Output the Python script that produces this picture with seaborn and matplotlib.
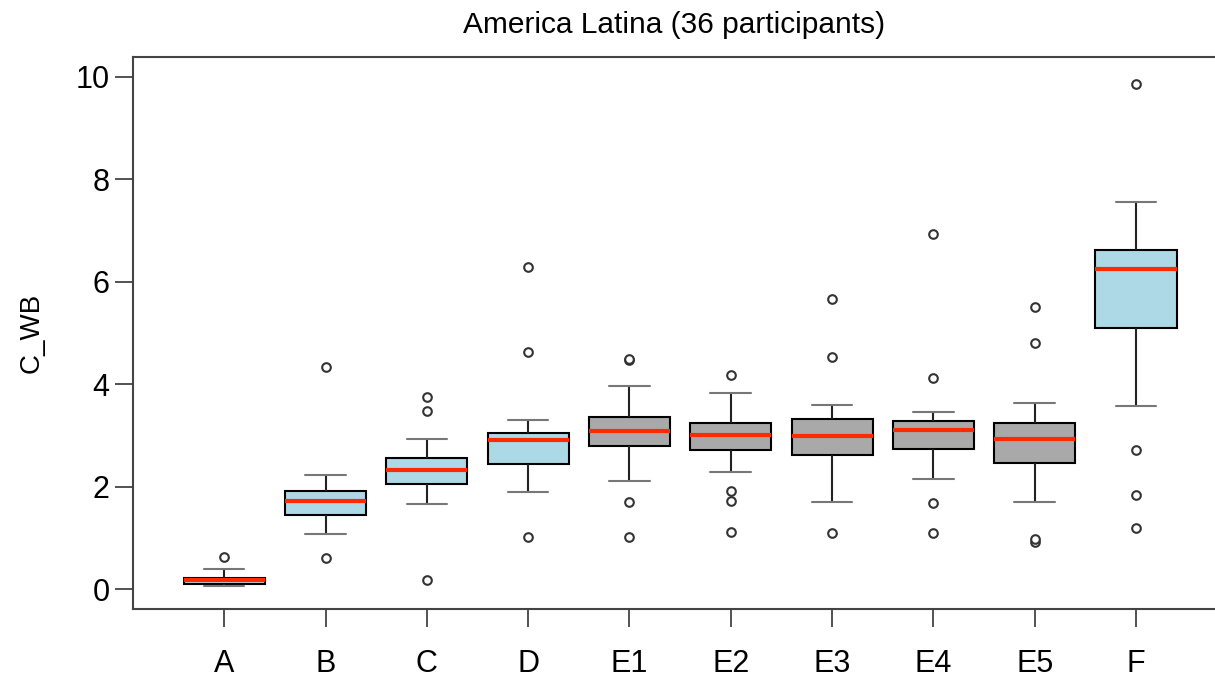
import pandas as pd
import matplotlib
matplotlib.use("Agg")
import matplotlib.pyplot as plt
import seaborn as sns

groups = ["A", "B", "C", "D", "E1", "E2", "E3", "E4", "E5", "F"]

vals_A = [0.06, 0.07, 0.08, 0.08, 0.09, 0.09, 0.09, 0.10, 0.10, 0.10,
          0.11, 0.12, 0.13, 0.14, 0.15, 0.16, 0.16, 0.17, 0.17,
          0.18, 0.18, 0.19, 0.20, 0.20, 0.21, 0.21, 0.22, 0.22,
          0.24, 0.25, 0.27, 0.29, 0.31, 0.34, 0.39, 0.62]
vals_B = [0.61, 1.07, 1.18, 1.25, 1.31, 1.36, 1.40, 1.42, 1.44, 1.44,
          1.48, 1.52, 1.56, 1.60, 1.64, 1.67, 1.70, 1.72, 1.72,
          1.74, 1.76, 1.79, 1.82, 1.85, 1.87, 1.89, 1.91, 1.91,
          1.94, 1.98, 2.02, 2.07, 2.12, 2.17, 2.23, 4.34]
vals_C = [0.17, 1.66, 1.78, 1.86, 1.93, 1.98, 2.02, 2.04, 2.06, 2.06,
          2.10, 2.14, 2.18, 2.22, 2.26, 2.29, 2.31, 2.33, 2.33,
          2.36, 2.39, 2.42, 2.45, 2.48, 2.51, 2.54, 2.56, 2.56,
          2.60, 2.65, 2.71, 2.78, 2.85, 2.92, 3.47, 3.75]
vals_D = [1.01, 1.89, 2.05, 2.18, 2.28, 2.35, 2.40, 2.43, 2.45, 2.45,
          2.52, 2.60, 2.67, 2.74, 2.80, 2.85, 2.88, 2.91, 2.91,
          2.93, 2.95, 2.97, 2.99, 3.01, 3.02, 3.04, 3.05, 3.05,
          3.08, 3.12, 3.16, 3.21, 3.26, 3.30, 4.62, 6.28]
vals_E1 = [1.01, 1.69, 2.11, 2.35, 2.52, 2.64, 2.72, 2.77, 2.80, 2.80,
           2.85, 2.90, 2.94, 2.98, 3.02, 3.05, 3.07, 3.09, 3.09,
           3.12, 3.15, 3.19, 3.23, 3.27, 3.30, 3.33, 3.35, 3.35,
           3.40, 3.48, 3.58, 3.70, 3.83, 3.96, 4.48, 4.50]
vals_E2 = [1.12, 1.71, 1.92, 2.28, 2.45, 2.58, 2.65, 2.70, 2.72, 2.72,
           2.76, 2.80, 2.85, 2.89, 2.93, 2.96, 2.98, 3.00, 3.00,
           3.03, 3.07, 3.10, 3.14, 3.17, 3.20, 3.22, 3.24, 3.24,
           3.30, 3.38, 3.47, 3.56, 3.66, 3.74, 3.82, 4.18]
vals_E3 = [1.10, 1.70, 2.05, 2.25, 2.40, 2.50, 2.56, 2.59, 2.61, 2.61,
           2.67, 2.73, 2.79, 2.85, 2.90, 2.94, 2.97, 2.99, 2.99,
           3.04, 3.09, 3.14, 3.19, 3.24, 3.28, 3.30, 3.32, 3.32,
           3.36, 3.40, 3.44, 3.49, 3.55, 3.60, 4.53, 5.66]
vals_E4 = [1.10, 1.68, 2.15, 2.38, 2.52, 2.62, 2.68, 2.72, 2.74, 2.74,
           2.80, 2.86, 2.92, 2.97, 3.02, 3.06, 3.09, 3.11, 3.11,
           3.14, 3.16, 3.19, 3.21, 3.23, 3.25, 3.27, 3.28, 3.28,
           3.30, 3.32, 3.34, 3.37, 3.40, 3.45, 4.13, 6.94]
vals_E5 = [0.92, 0.98, 1.70, 1.98, 2.18, 2.32, 2.40, 2.44, 2.47, 2.47,
           2.55, 2.63, 2.70, 2.77, 2.83, 2.88, 2.91, 2.93, 2.93,
           2.97, 3.01, 3.06, 3.11, 3.16, 3.20, 3.23, 3.25, 3.25,
           3.30, 3.36, 3.43, 3.50, 3.57, 3.63, 4.80, 5.50]
vals_F = [1.19, 1.84, 2.72, 3.58, 4.20, 4.62, 4.90, 5.03, 5.09, 5.09,
          5.35, 5.60, 5.82, 5.98, 6.10, 6.18, 6.22, 6.25, 6.25,
          6.30, 6.36, 6.42, 6.48, 6.53, 6.57, 6.60, 6.62, 6.62,
          6.70, 6.80, 6.95, 7.10, 7.25, 7.40, 7.55, 9.86]

all_vals = [vals_A, vals_B, vals_C, vals_D, vals_E1,
            vals_E2, vals_E3, vals_E4, vals_E5, vals_F]

df = pd.DataFrame({
    "group": [g for g, v in zip(groups, all_vals) for _ in v],
    "C_WB": [x for v in all_vals for x in v],
})

box_colors = {g: ("#A9A9A9" if g.startswith("E") else "#ADD8E6") for g in groups}
fam = ["Liberation Sans", "DejaVu Sans"]

fig = plt.figure(figsize=(12.15, 6.78), dpi=100)
ax = fig.add_axes([0.1095, 0.1018, 0.8905, 0.8142])
sns.set_style("ticks")
plt.rcParams["font.family"] = fam

sns.boxplot(data=df, x="group", y="C_WB", hue="group", order=groups,
            palette=box_colors, saturation=1, legend=False, width=0.8, ax=ax,
            linecolor="black", linewidth=1.5,
            medianprops=dict(color="#FF2A00", linewidth=3),
            whiskerprops=dict(color="#222222", linewidth=1.5),
            capprops=dict(color="#777777", linewidth=1.5),
            flierprops=dict(marker="o", markersize=6.2, markerfacecolor="white",
                            markeredgecolor="#333333", markeredgewidth=1.5))

ax.set_xlim(-0.9, 9.78)
ax.set_ylim(-0.39, 10.39)
ax.set_yticks([0, 2, 4, 6, 8, 10])
ax.set_xlabel("")
ax.set_ylabel("C_WB", fontsize=20, family=fam, labelpad=22)
ax.set_title("America Latina (36 participants)", fontsize=21.5, family=fam, pad=17)

for lab in ax.get_xticklabels() + ax.get_yticklabels():
    lab.set_family(fam)
ax.tick_params(axis="y", labelsize=22, length=13, width=1.3, color="#444444", pad=4)
ax.tick_params(axis="x", labelsize=22, length=13, width=1.3, color="#444444", pad=16)

for side in ["left", "top", "bottom"]:
    ax.spines[side].set_visible(True)
    ax.spines[side].set_color("#444444")
    ax.spines[side].set_linewidth(1.5)
ax.spines["right"].set_visible(False)

fig.savefig("out.png", dpi=100)
